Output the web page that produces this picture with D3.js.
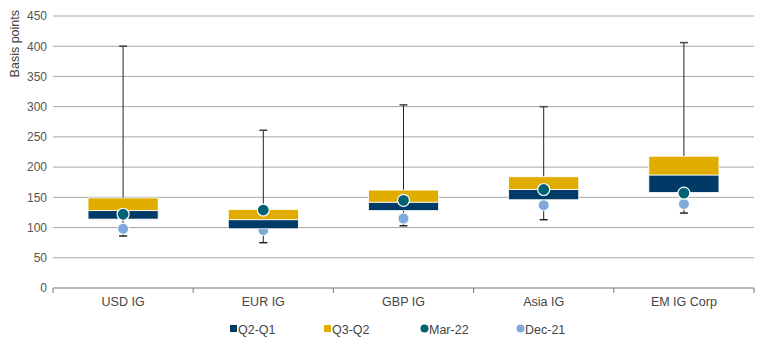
<!DOCTYPE html>
<html>
<head>
<meta charset="utf-8">
<script src="https://cdn.jsdelivr.net/npm/d3@7"></script>
<style>
  body { margin: 0; background: #fff; }
  text { font-family: "Liberation Sans", Arial, sans-serif; }
</style>
</head>
<body>
<svg id="chart" width="770" height="345"></svg>
<script>
// data (basis points)
var categories = ["USD IG", "EUR IG", "GBP IG", "Asia IG", "EM IG Corp"];
var minVals  = [86, 75, 103, 113, 124];
var q1Vals   = [114, 98, 128, 146, 158];
var q2Vals   = [128, 113, 142, 163, 187];
var q3Vals   = [149, 130, 162, 184, 218];
var maxVals  = [400, 261, 303, 300, 406];
var mar22    = [122, 129, 145, 163, 157];
var dec21    = [98, 96, 115, 137, 139];
var yTicks   = [0, 50, 100, 150, 200, 250, 300, 350, 400, 450];
var legendItems = ["Q2-Q1", "Q3-Q2", "Mar-22", "Dec-21"];

var navy = "#003a66", gold = "#e0ac00", teal = "#006272", light = "#7fa9d9";

var margin = { top: 16, right: 16, bottom: 57, left: 53 };
var width = 770 - margin.left - margin.right;
var height = 345 - margin.top - margin.bottom;

var data = categories.map(function(c, i) {
  return { cat: c, min: minVals[i], q1: q1Vals[i], q2: q2Vals[i], q3: q3Vals[i],
           max: maxVals[i], mar: mar22[i], dec: dec21[i] };
});

var svg = d3.select("#chart")
  .append("g")
  .attr("transform", "translate(" + margin.left + "," + margin.top + ")");

var x = d3.scaleBand().domain(categories).range([0, width]).padding(0);
var y = d3.scaleLinear().domain([0, 450]).range([height, 0]);

// grid lines
svg.append("g")
  .selectAll("line")
  .data(yTicks.filter(function(t) { return t > 0; }))
  .enter().append("line")
  .attr("x1", 0).attr("x2", width)
  .attr("y1", function(d) { return y(d); })
  .attr("y2", function(d) { return y(d); })
  .attr("stroke", "#a6a6a6").attr("stroke-width", 1);

// y axis labels
svg.append("g")
  .call(d3.axisLeft(y).tickValues(yTicks).tickSize(0).tickPadding(6))
  .call(function(g) { g.select(".domain").remove(); })
  .selectAll("text")
  .attr("fill", "#555").style("font-size", "12px");

// x axis
var xAxis = svg.append("g")
  .attr("transform", "translate(0," + height + ")");
xAxis.append("line")
  .attr("x1", 0).attr("x2", width)
  .attr("stroke", "#777");
xAxis.selectAll(".tk")
  .data(d3.range(categories.length + 1))
  .enter().append("line")
  .attr("x1", function(i) { return i * x.bandwidth(); })
  .attr("x2", function(i) { return i * x.bandwidth(); })
  .attr("y1", 0).attr("y2", 5)
  .attr("stroke", "#777");
xAxis.selectAll(".lbl")
  .data(categories)
  .enter().append("text")
  .attr("x", function(d) { return x(d) + x.bandwidth() / 2; })
  .attr("y", 18)
  .attr("text-anchor", "middle")
  .attr("fill", "#444")
  .style("font-size", "12.5px")
  .text(function(d) { return d; });

// y axis title
svg.append("text")
  .attr("transform", "rotate(-90)")
  .attr("x", 6).attr("y", -margin.left + 19)
  .attr("text-anchor", "end")
  .attr("fill", "#444")
  .style("font-size", "12.5px")
  .text("Basis points");

var boxW = x.bandwidth() * 0.5;
var cx = function(d) { return x(d.cat) + x.bandwidth() / 2; };

var g = svg.selectAll(".box").data(data).enter().append("g");

// whiskers
g.append("line")
  .attr("x1", cx).attr("x2", cx)
  .attr("y1", function(d) { return y(d.max); })
  .attr("y2", function(d) { return y(d.q3); })
  .attr("stroke", "#222");
g.append("line")
  .attr("x1", cx).attr("x2", cx)
  .attr("y1", function(d) { return y(d.q1); })
  .attr("y2", function(d) { return y(d.min); })
  .attr("stroke", "#222");
g.append("line")
  .attr("x1", function(d) { return cx(d) - 4; })
  .attr("x2", function(d) { return cx(d) + 4; })
  .attr("y1", function(d) { return y(d.max); })
  .attr("y2", function(d) { return y(d.max); })
  .attr("stroke", "#444").attr("stroke-width", 1.5);
g.append("line")
  .attr("x1", function(d) { return cx(d) - 4; })
  .attr("x2", function(d) { return cx(d) + 4; })
  .attr("y1", function(d) { return y(d.min); })
  .attr("y2", function(d) { return y(d.min); })
  .attr("stroke", "#222").attr("stroke-width", 1.5);

// Dec-21 dots (drawn under the boxes)
g.append("circle")
  .attr("cx", cx)
  .attr("cy", function(d) { return y(d.dec); })
  .attr("r", 5.5)
  .attr("fill", light)
  .attr("stroke", "#fff").attr("stroke-width", 1);

// box segments
g.append("rect")
  .attr("x", function(d) { return cx(d) - boxW / 2; })
  .attr("width", boxW)
  .attr("y", function(d) { return y(d.q2); })
  .attr("height", function(d) { return y(d.q1) - y(d.q2); })
  .attr("fill", navy)
  .attr("stroke", "#fff").attr("stroke-width", 0.8);
g.append("rect")
  .attr("x", function(d) { return cx(d) - boxW / 2; })
  .attr("width", boxW)
  .attr("y", function(d) { return y(d.q3); })
  .attr("height", function(d) { return y(d.q2) - y(d.q3); })
  .attr("fill", gold)
  .attr("stroke", "#fff").attr("stroke-width", 0.8);

// Mar-22 dots
g.append("circle")
  .attr("cx", cx)
  .attr("cy", function(d) { return y(d.mar); })
  .attr("r", 6)
  .attr("fill", teal)
  .attr("stroke", "#fff").attr("stroke-width", 1.2);

// legend
var legend = d3.select("#chart").append("g")
  .attr("transform", "translate(0,329)");
var legX = [230, 324, 421, 517];
var legColors = [navy, gold, teal, light];
legendItems.forEach(function(name, i) {
  var item = legend.append("g").attr("transform", "translate(" + legX[i] + ",0)");
  if (i < 2) {
    item.append("rect").attr("x", 0).attr("y", -4).attr("width", 7).attr("height", 7)
      .attr("fill", legColors[i]);
  } else {
    item.append("circle").attr("cx", 3.5).attr("cy", -0.5).attr("r", 4)
      .attr("fill", legColors[i]);
  }
  item.append("text")
    .attr("x", 8).attr("y", 4.5)
    .attr("fill", "#444")
    .style("font-size", "12.5px")
    .text(name);
});
</script>
</body>
</html>
